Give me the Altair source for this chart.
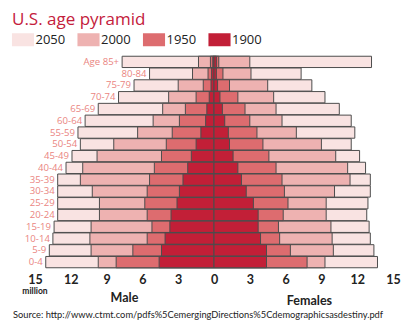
import altair as alt
import pandas as pd

ages = ["Age 85+", "80-84", "75-79", "70-74", "65-69", "60-64", "55-59", "50-54", "45-49",
        "40-44", "35-39", "30-34", "25-29", "20-24", "15-19", "10-14", "5-9", "0-4"]
years = ["2050", "2000", "1950", "1900"]
colors = ["#f9e3e2", "#eeb2b1", "#dd6c6f", "#c21f37"]

# millions, top (85+) to bottom (0-4)
male_2050 = [7.7, 5.4, 6.7, 8.0, 9.7, 10.8, 11.4, 11.2, 11.9, 12.4, 13.1, 13.1, 13.1, 13.1, 13.4, 13.5, 13.8, 14.1]
male_2000 = [1.3, 1.8, 3.0, 3.8, 4.3, 5.1, 6.4, 8.4, 9.8, 11.0, 11.2, 10.2, 9.6, 9.6, 10.3, 10.4, 10.3, 9.7]
male_1950 = [0.3, 0.5, 0.9, 1.5, 2.4, 2.9, 3.5, 4.0, 4.4, 5.0, 5.4, 5.6, 5.8, 5.6, 5.2, 5.6, 6.8, 8.2]
male_1900 = [0.1, 0.2, 0.25, 0.4, 0.6, 0.7, 1.1, 1.5, 1.9, 2.2, 2.6, 2.9, 3.1, 3.6, 3.7, 4.1, 4.4, 4.6]

female_2050 = [13.2, 7.3, 8.2, 9.3, 10.5, 11.5, 11.8, 11.5, 12.2, 12.7, 13.1, 13.1, 12.9, 12.8, 13.0, 13.1, 13.4, 13.7]
female_2000 = [3.0, 3.1, 4.5, 5.0, 5.2, 5.7, 6.9, 9.0, 10.2, 11.2, 11.4, 10.1, 9.4, 9.4, 9.8, 9.9, 10.0, 9.3]
female_1950 = [0.4, 0.75, 1.3, 2.0, 2.6, 3.0, 3.6, 4.1, 4.6, 5.2, 5.7, 5.9, 6.2, 5.8, 5.4, 5.5, 6.4, 7.8]
female_1900 = [0.2, 0.2, 0.3, 0.5, 0.7, 0.9, 1.2, 1.3, 1.6, 2.0, 2.3, 2.7, 3.3, 3.7, 3.7, 3.9, 4.4, 4.4]

tick_values = [-15, -12, -9, -6, -3, 0, 3, 6, 9, 12, 15]

male = {"2050": male_2050, "2000": male_2000, "1950": male_1950, "1900": male_1900}
female = {"2050": female_2050, "2000": female_2000, "1950": female_1950, "1900": female_1900}

rows = []
for y in years:
    for i, a in enumerate(ages):
        rows.append({"age": a, "year": y, "sex": "Male", "value": -male[y][i]})
        rows.append({"age": a, "year": y, "sex": "Female", "value": female[y][i]})
df = pd.DataFrame(rows)

label_df = pd.DataFrame({"age": ages, "pos": [-v for v in male_2050]})

FONT = "Open Sans"
FONT2 = "Lato"

xscale = alt.Scale(domain=[-15, 15], nice=False, zero=False)
xaxis = alt.Axis(values=tick_values, labelExpr="abs(datum.value)",
                 title=None, ticks=False, domain=False, grid=False,
                 labelOverlap=False, labelFlush=False, labelBound=False,
                 labelFont=FONT2, labelFontSize=12.5, labelFontWeight="bold",
                 labelColor="#222222", labelPadding=5)
yenc = alt.Y("age:N", sort=ages, axis=None,
             scale=alt.Scale(paddingInner=0.04, paddingOuter=0.02))

bars = alt.Chart(df).mark_bar(stroke="#4d4d4d", strokeWidth=1).encode(
    x=alt.X("value:Q", stack=None, scale=xscale, axis=xaxis),
    y=yenc,
    color=alt.Color("year:N", sort=years,
                    scale=alt.Scale(domain=years, range=colors),
                    legend=alt.Legend(
                        title=None, orient="none", direction="horizontal", columns=4,
                        legendX=-18.5, legendY=-23, padding=0,
                        symbolType="M-1.7,-1H1.7V1H-1.7Z", symbolSize=169,
                        symbolStrokeWidth=0, symbolOpacity=1,
                        labelFont=FONT, labelFontSize=13, labelColor="#222222",
                        labelOffset=6, columnPadding=11.5)),
)

age_labels = alt.Chart(label_df).mark_text(
    align="right", baseline="middle", dx=-3, font=FONT, fontSize=9.6, color="#ea8581"
).encode(x=alt.X("pos:Q", scale=xscale, axis=xaxis), y=yenc, text="age:N")

ann_df = pd.DataFrame({
    "txt": ["million", "Male", "Females"],
    "xv": [-15, -7.5, 8.0],
    "yp": [235, 242, 245],
    "fs": [8.5, 12.5, 12.5],
})
ann = alt.Chart(ann_df).mark_text(
    align="center", baseline="middle", font=FONT2, fontWeight="bold", color="#222222"
).encode(
    x=alt.X("xv:Q", scale=xscale, axis=xaxis),
    y=alt.Y("yp:Q", scale=None),
    text="txt:N",
    size=alt.Size("fs:Q", scale=None, legend=None),
)

src_df = pd.DataFrame({"txt": ["Source: http://www.ctmt.com/pdfs%5CemergingDirections%5Cdemographicsasdestiny.pdf"]})
src = alt.Chart(src_df).mark_text(
    align="left", baseline="middle", font=FONT2, fontSize=9.3, color="#222222"
).encode(x=alt.value(-22), y=alt.value(259), text="txt:N")

chart = alt.layer(bars, age_labels, ann, src).properties(
    width=358, height=212,
    autosize=alt.AutoSizeParams(type="none"),
    padding={"left": 35, "top": 56, "right": 18, "bottom": 56},
    title=alt.TitleParams("U.S. age pyramid", anchor="start", frame="group",
                          font=FONT, fontSize=17, fontWeight="normal",
                          color="#c4203c", dx=-23, dy=20, offset=24),
).configure_view(stroke=None).configure_axis(labelOverlap=False)

chart.save("out.html", embed_options={"renderer": "svg", "actions": False})
